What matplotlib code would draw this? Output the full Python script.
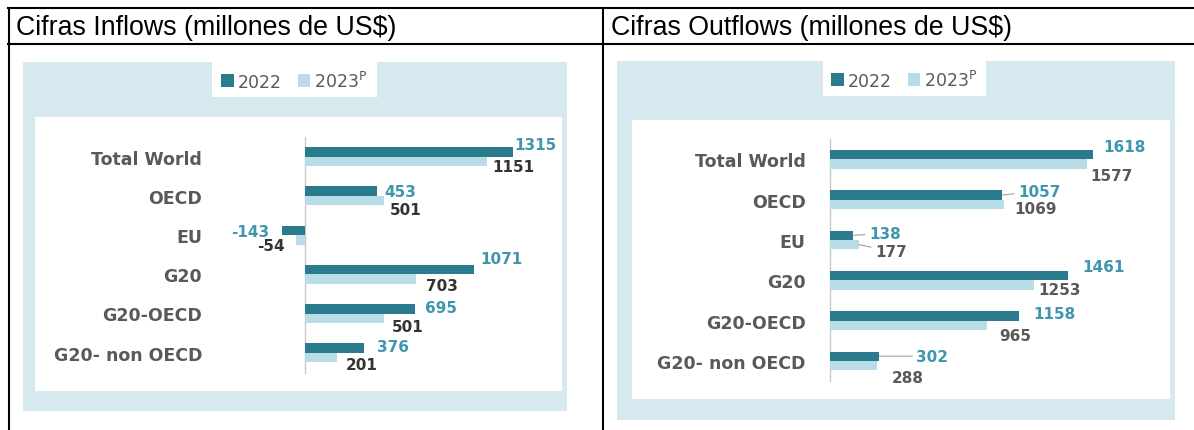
import numpy as np
import matplotlib
matplotlib.use('Agg')
from matplotlib import pyplot as plt
from matplotlib.patches import Rectangle
from matplotlib.lines import Line2D

# data
categories = ['Total World', 'OECD', 'EU', 'G20', 'G20-OECD', 'G20- non OECD']
inflows_2022 = [1315, 453, -143, 1071, 695, 376]
inflows_2023 = [1151, 501, -54, 703, 501, 201]
outflows_2022 = [1618, 1057, 138, 1461, 1158, 302]
outflows_2023 = [1577, 1069, 177, 1253, 965, 288]
headers = ['Cifras Inflows (millones de US$)', 'Cifras Outflows (millones de US$)']
series_names = ['2022', '2023$^\\mathregular{P}$']

# colours
DARK = '#2b7b8e'
LIGHT = '#b9dde7'
BG = '#d6e9ef'
TEAL_TXT = '#3f96ad'
GRAY_TXT = '#595959'

W, H = 1194, 431
fig = plt.figure(figsize=(W / 100, H / 100), dpi=100)


def fx(x):
    return x / W


def fy(y):
    return 1 - y / H


def prect(x0, y0, x1, y1, color):
    fig.add_artist(Rectangle((fx(x0), fy(y1)), (x1 - x0) / W, (y1 - y0) / H,
                             transform=fig.transFigure, facecolor=color,
                             edgecolor='none', zorder=-5))


def pline(x0, y0, x1, y1):
    fig.add_artist(Line2D([fx(x0), fx(x1)], [fy(y0), fy(y1)], transform=fig.transFigure,
                          color='black', lw=1.5, zorder=10))


# table grid
pline(8, 9, W, 9)
pline(8, 45, W, 45)
pline(9, 9, 9, H)
pline(603, 9, 603, H)
fig.text(fx(16), fy(28), headers[0], va='center', ha='left', fontsize=19.3,
         family='Liberation Sans', color='black')
fig.text(fx(611), fy(28), headers[1], va='center', ha='left', fontsize=19.3,
         family='Liberation Sans', color='black')


def panel(layout, v22, v23, nudge22, nudge23, lead22, lead23, txt23):
    L = layout
    prect(*L['bg'], BG)
    prect(*L['white'], 'white')
    prect(*L['legend'], 'white')

    ax_l, ax_t, ax_r, ax_b = L['axes']
    ax = fig.add_axes([fx(ax_l), fy(ax_b), (ax_r - ax_l) / W, (ax_b - ax_t) / H])
    ax.patch.set_alpha(0)
    zero, ppu = L['zero'], L['ppu']
    ax.set_xlim((ax_l - zero) / ppu, (ax_r - zero) / ppu)
    c0, step = L['cat0'], L['step']
    ax.set_ylim(5 + (ax_b - (c0 + 5 * step)) / step, -(c0 - ax_t) / step)

    y = np.arange(len(categories))
    h = L['barh']
    b1 = ax.barh(y - h / 2, v22, height=h, color=DARK, zorder=2)
    b2 = ax.barh(y + h / 2, v23, height=h, color=LIGHT, zorder=2)
    ax.axvline(0, color='#c9c9c9', lw=1, zorder=1)

    for s in ax.spines.values():
        s.set_visible(False)
    ax.set_xticks([])
    ax.set_yticks(y)
    ax.set_yticklabels(categories, fontsize=12.5, fontweight='bold', color=GRAY_TXT)
    ax.tick_params(axis='y', length=0, pad=(ax_l - L['label_right']) * 0.72)

    for vals, off, nudges, leads, color in ((v22, -h / 2, nudge22, lead22, TEAL_TXT),
                                            (v23, h / 2, nudge23, lead23, txt23)):
        for i, v in enumerate(vals):
            dx, dy = nudges[i]
            ap = None
            if leads[i]:
                ap = dict(arrowstyle='-', color='#a0a0a0', lw=0.8, shrinkA=1, shrinkB=0)
            ax.annotate(str(v), xy=(v, i + off), xytext=(dx, -dy),
                        textcoords='offset pixels', ha='left' if v >= 0 else 'right',
                        va='center', fontsize=11, fontweight='bold', color=color,
                        arrowprops=ap)

    lx0, ly0, lx1, ly1 = L['legend']
    fig.legend([b1, b2], series_names, loc='center', frameon=False, ncol=2,
               bbox_to_anchor=(fx((lx0 + lx1) / 2), fy((ly0 + ly1) / 2 + 1)),
               fontsize=12.5, labelcolor=GRAY_TXT, handlelength=0.7, handleheight=0.7,
               handletextpad=0.25, columnspacing=0.9, borderpad=0)


inflow_layout = dict(bg=(23, 63, 567, 412), white=(35, 118, 562, 392),
                     legend=(212, 63, 377, 98), axes=(240, 137.6, 560, 374.5),
                     zero=305, ppu=0.1582, cat0=157.7, step=39.2, barh=0.242,
                     label_right=202)
panel(inflow_layout, inflows_2022, inflows_2023,
      [(1, -7), (8, 0), (-13, 1), (6, -11), (10, -1), (13, -1)],
      [(5, 5), (6, 9), (-12, 6), (10, 6), (8, 8), (9, 7)],
      [False] * 6, [False] * 6, '#333333')

outflow_layout = dict(bg=(617, 62, 1175, 421), white=(632, 121, 1170, 400),
                      legend=(823, 62, 986, 97), axes=(815, 140, 1168, 383),
                      zero=830.4, ppu=0.1625, cat0=160.4, step=40.28, barh=0.23,
                      label_right=805.5)
panel(outflow_layout, outflows_2022, outflows_2023,
      [(10, -8), (16, -4), (16, -2), (15, -9), (15, -2), (37, 0)],
      [(4, 11), (10, 4), (16, 7), (4, 5), (12, 10), (15, 12)],
      [False, True, True, False, False, True], [False, False, True, False, False, False],
      GRAY_TXT)

fig.savefig('out.png', dpi=100)
